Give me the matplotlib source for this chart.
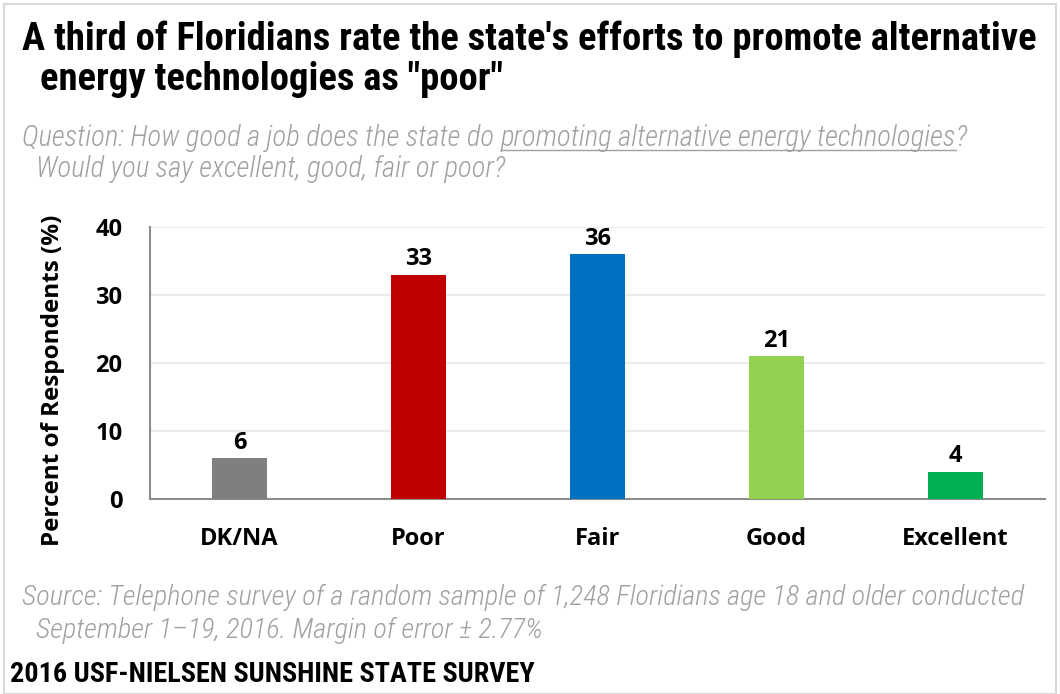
import matplotlib
matplotlib.use("Agg")
import matplotlib.pyplot as plt
from matplotlib import font_manager
from matplotlib.patches import Rectangle

names = {f.name for f in font_manager.fontManager.ttflist}
NARROW = next((n for n in ["Roboto Condensed", "Open Sans Condensed", "Liberation Sans Narrow",
                           "Arial Narrow", "Lato"] if n in names), "DejaVu Sans")
FONT = "Open Sans" if "Open Sans" in names else "DejaVu Sans"

categories = ["DK/NA", "Poor", "Fair", "Good", "Excellent"]
values = [6, 33, 36, 21, 4]
colors = ["#7F7F7F", "#C00000", "#0070C0", "#92D050", "#00B050"]
yticks = [0, 10, 20, 30, 40]

title1 = "A third of Floridians rate the state's efforts to promote alternative"
title2 = "energy technologies as \"poor\""
q_pre = "Question: How good a job does the state do "
q_mid = "promoting alternative energy technologies"
q_post = "?"
q_line2 = "Would you say excellent, good, fair or poor?"
source1 = "Source: Telephone survey of a random sample of 1,248 Floridians age 18 and older conducted"
source2 = "September 1\u201319, 2016. Margin of error \u00b1 2.77%"
footer = "2016 USF-NIELSEN SUNSHINE STATE SURVEY"

W, H = 1060, 694
fig = plt.figure(figsize=(W / 100, H / 100), dpi=100)
fig.patches.append(Rectangle((4 / W, 0), 1 - 8 / W, 1 - 4 / H, transform=fig.transFigure,
                             fill=False, edgecolor="#D9D9D9", lw=1.5))
fig.canvas.draw()
R = fig.canvas.get_renderer()


def fit_size(s, target_px, **kw):
    t = fig.text(0, 0, s, fontsize=10, **kw)
    w = t.get_window_extent(R).width
    t.remove()
    return 10 * target_px / w


def ftext(x_px, y_px, s, **kw):
    return fig.text(x_px / W, 1 - y_px / H, s, ha="left", va="baseline", **kw)


ax = fig.add_axes([150 / W, 1 - 499 / H, (1045 - 150) / W, (499 - 227) / H])
x = list(range(len(categories)))
ax.bar(x, values, width=0.31, color=colors, zorder=3)
for xi, v in zip(x, values):
    ax.text(xi, v + 0.5, str(v), ha="center", va="bottom", fontsize=17, fontweight="bold",
            family=FONT, color="#000000")
ax.set_xlim(-0.5, len(categories) - 0.5)
ax.set_ylim(0, 40)
ax.set_yticks(yticks)
ax.set_xticks(x)
ax.set_xticklabels(categories)
for lab in ax.get_xticklabels() + ax.get_yticklabels():
    lab.set_fontfamily(FONT)
    lab.set_fontweight("bold")
    lab.set_fontsize(17)
ax.tick_params(axis="both", length=0)
ax.tick_params(axis="x", pad=20)
ax.tick_params(axis="y", pad=20)
ax.grid(axis="y", color="#E8E8E8", lw=1.2, zorder=0)
for s in ["top", "right"]:
    ax.spines[s].set_visible(False)
for s in ["left", "bottom"]:
    ax.spines[s].set_color("#8C8C8C")
    ax.spines[s].set_linewidth(1.5)
ax.set_ylabel("Percent of Respondents (%)", fontsize=17.5, fontweight="bold", family=FONT)
ax.yaxis.set_label_coords(-85 / 895, 0.4375)

# Title
tkw = dict(fontweight="bold", family=NARROW, color="#000000")
ts = fit_size(title1, 1035 - 22, **tkw)
ftext(22, 50, title1, fontsize=ts, **tkw)
ftext(40, 90, title2, fontsize=ts, **tkw)

# Question
gray = "#A0A0A0"
qkw = dict(style="italic", fontweight="light", family=NARROW, color=gray)
qs = fit_size(q_pre + q_mid + q_post, 966 - 22, **qkw)
t1 = ftext(22, 146, q_pre, fontsize=qs, **qkw)
fig.canvas.draw()
bb1 = t1.get_window_extent(R)
t2 = fig.text(bb1.x1 / W, 1 - 146 / H, q_mid, ha="left", va="baseline", fontsize=qs, **qkw)
bb2 = t2.get_window_extent(R)
fig.text(bb2.x1 / W, 1 - 146 / H, q_post, ha="left", va="baseline", fontsize=qs, **qkw)
fig.add_artist(plt.Line2D([bb2.x0 / W, bb2.x1 / W], [1 - 150 / H, 1 - 150 / H],
                          transform=fig.transFigure, color=gray, lw=1))
ftext(36, 177, q_line2, fontsize=qs, **qkw)

# Source and footer
ss = fit_size(source1, 1025 - 22, **qkw)
ftext(22, 605, source1, fontsize=ss, **qkw)
ftext(36, 638, source2, fontsize=ss, **qkw)
fkw = dict(fontweight="bold", family=NARROW, color="#000000")
fs = fit_size(footer, 532 - 10, **fkw)
ftext(10, 682, footer, fontsize=fs, **fkw)

fig.savefig("out.png", dpi=100)
